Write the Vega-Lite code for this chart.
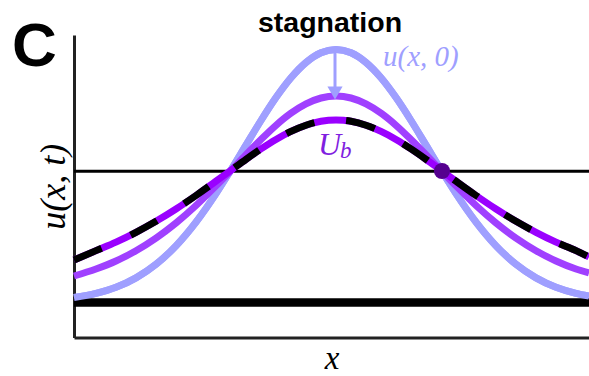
{
  "$schema": "https://vega.github.io/schema/vega-lite/v6.json",
  "autosize": {"type": "none"},
  "padding": {"left": 74, "top": 35, "right": 0, "bottom": 38.5},
  "width": 515,
  "height": 302.5,
  "background": "#ffffff",
  "config": {
    "view": {"stroke": null},
    "axis": {
      "grid": false,
      "ticks": false,
      "labels": false,
      "domainColor": "#222222",
      "domainWidth": 3,
      "titleFont": "Liberation Serif",
      "titleFontStyle": "italic",
      "titleFontWeight": "normal",
      "titleColor": "#000000"
    },
    "axisX": {"titleFontSize": 33, "titlePadding": 5},
    "axisY": {"titleFontSize": 36, "titlePadding": 2}
  },
  "datasets": {
    "profiles": [
      {"s": "u0", "x": 0, "y": 40.0}, {"s": "u0", "x": 22, "y": 44.1}, {"s": "u0", "x": 42, "y": 50.2},
      {"s": "u0", "x": 62, "y": 59.6}, {"s": "u0", "x": 82, "y": 73.2}, {"s": "u0", "x": 102, "y": 91.7},
      {"s": "u0", "x": 122, "y": 115.4}, {"s": "u0", "x": 142, "y": 143.9}, {"s": "u0", "x": 156, "y": 166.0},
      {"s": "u0", "x": 172, "y": 192.4}, {"s": "u0", "x": 187, "y": 217.0}, {"s": "u0", "x": 202, "y": 239.9},
      {"s": "u0", "x": 217, "y": 259.7}, {"s": "u0", "x": 232, "y": 275.0}, {"s": "u0", "x": 247, "y": 284.7},
      {"s": "u0", "x": 262, "y": 288.0}, {"s": "u0", "x": 277, "y": 284.7}, {"s": "u0", "x": 292, "y": 275.0},
      {"s": "u0", "x": 307, "y": 259.7}, {"s": "u0", "x": 322, "y": 239.9}, {"s": "u0", "x": 337, "y": 217.0},
      {"s": "u0", "x": 352, "y": 192.4}, {"s": "u0", "x": 368, "y": 166.0}, {"s": "u0", "x": 382, "y": 143.9},
      {"s": "u0", "x": 402, "y": 115.4}, {"s": "u0", "x": 422, "y": 91.7}, {"s": "u0", "x": 442, "y": 73.2},
      {"s": "u0", "x": 462, "y": 59.6}, {"s": "u0", "x": 482, "y": 50.2}, {"s": "u0", "x": 502, "y": 44.1},
      {"s": "u0", "x": 515, "y": 41.4},

      {"s": "mid", "x": 0, "y": 61.5}, {"s": "mid", "x": 22, "y": 68.5}, {"s": "mid", "x": 42, "y": 76.5},
      {"s": "mid", "x": 62, "y": 86.8}, {"s": "mid", "x": 82, "y": 99.4}, {"s": "mid", "x": 102, "y": 114.5},
      {"s": "mid", "x": 122, "y": 132.0}, {"s": "mid", "x": 142, "y": 151.6}, {"s": "mid", "x": 156, "y": 166.0},
      {"s": "mid", "x": 172, "y": 182.8}, {"s": "mid", "x": 187, "y": 198.0}, {"s": "mid", "x": 202, "y": 212.2},
      {"s": "mid", "x": 217, "y": 224.3}, {"s": "mid", "x": 232, "y": 233.6}, {"s": "mid", "x": 247, "y": 239.5},
      {"s": "mid", "x": 262, "y": 241.5}, {"s": "mid", "x": 277, "y": 239.5}, {"s": "mid", "x": 292, "y": 233.6},
      {"s": "mid", "x": 307, "y": 224.3}, {"s": "mid", "x": 322, "y": 212.2}, {"s": "mid", "x": 337, "y": 198.0},
      {"s": "mid", "x": 352, "y": 182.8}, {"s": "mid", "x": 368, "y": 166.0}, {"s": "mid", "x": 382, "y": 151.6},
      {"s": "mid", "x": 402, "y": 132.0}, {"s": "mid", "x": 422, "y": 114.5}, {"s": "mid", "x": 442, "y": 99.4},
      {"s": "mid", "x": 462, "y": 86.8}, {"s": "mid", "x": 482, "y": 76.5}, {"s": "mid", "x": 502, "y": 68.5},
      {"s": "mid", "x": 515, "y": 64.5},

      {"s": "ub", "x": 0, "y": 77.5}, {"s": "ub", "x": 22, "y": 86.9}, {"s": "ub", "x": 42, "y": 95.4},
      {"s": "ub", "x": 62, "y": 105.2}, {"s": "ub", "x": 82, "y": 116.2}, {"s": "ub", "x": 102, "y": 128.5},
      {"s": "ub", "x": 122, "y": 142.0}, {"s": "ub", "x": 142, "y": 156.3}, {"s": "ub", "x": 156, "y": 166.5},
      {"s": "ub", "x": 172, "y": 178.2}, {"s": "ub", "x": 187, "y": 188.6}, {"s": "ub", "x": 202, "y": 198.1},
      {"s": "ub", "x": 217, "y": 206.1}, {"s": "ub", "x": 232, "y": 212.3}, {"s": "ub", "x": 247, "y": 216.2},
      {"s": "ub", "x": 262, "y": 217.5}, {"s": "ub", "x": 277, "y": 216.2}, {"s": "ub", "x": 292, "y": 212.3},
      {"s": "ub", "x": 307, "y": 206.1}, {"s": "ub", "x": 322, "y": 198.1}, {"s": "ub", "x": 337, "y": 188.6},
      {"s": "ub", "x": 352, "y": 178.2}, {"s": "ub", "x": 368, "y": 166.5}, {"s": "ub", "x": 382, "y": 156.3},
      {"s": "ub", "x": 402, "y": 142.0}, {"s": "ub", "x": 422, "y": 128.5}, {"s": "ub", "x": 442, "y": 116.2},
      {"s": "ub", "x": 462, "y": 105.2}, {"s": "ub", "x": 482, "y": 95.4}, {"s": "ub", "x": 502, "y": 86.9},
      {"s": "ub", "x": 515, "y": 80.5}
    ]
  },
  "layer": [
    {
      "data": {"name": "profiles"},
      "transform": [{"filter": "datum.s === 'u0'"}],
      "mark": {"type": "line", "interpolate": "monotone", "strokeWidth": 7, "color": "#9f9fff", "strokeCap": "butt"},
      "encoding": {
        "x": {"field": "x", "type": "quantitative", "scale": {"domain": [0, 515], "nice": false, "zero": false}, "axis": {"title": "x"}},
        "y": {"field": "y", "type": "quantitative", "scale": {"domain": [0, 302.5], "nice": false, "zero": false}, "axis": {"title": "u(x, t)"}}
      }
    },
    {
      "data": {"values": [{"level": 35}]},
      "mark": {"type": "rule", "strokeWidth": 8.5, "color": "#000000"},
      "encoding": {"y": {"field": "level", "type": "quantitative"}}
    },
    {
      "data": {"values": [{"level": 166.2}]},
      "mark": {"type": "rule", "strokeWidth": 3, "color": "#000000"},
      "encoding": {"y": {"field": "level", "type": "quantitative"}}
    },
    {
      "data": {"name": "profiles"},
      "transform": [{"filter": "datum.s === 'u0'"}],
      "mark": {"type": "line", "interpolate": "monotone", "strokeWidth": 7, "color": "#9f9fff", "strokeCap": "butt"},
      "encoding": {
        "x": {"field": "x", "type": "quantitative"},
        "y": {"field": "y", "type": "quantitative"}
      }
    },
    {
      "data": {"name": "profiles"},
      "transform": [{"filter": "datum.s === 'mid'"}],
      "mark": {"type": "line", "interpolate": "monotone", "strokeWidth": 7, "color": "#a040ff", "strokeCap": "butt"},
      "encoding": {
        "x": {"field": "x", "type": "quantitative"},
        "y": {"field": "y", "type": "quantitative"}
      }
    },
    {
      "data": {"name": "profiles"},
      "transform": [{"filter": "datum.s === 'ub'"}],
      "mark": {"type": "line", "interpolate": "monotone", "strokeWidth": 7, "color": "#9a00ff", "strokeCap": "butt"},
      "encoding": {
        "x": {"field": "x", "type": "quantitative"},
        "y": {"field": "y", "type": "quantitative"}
      }
    },
    {
      "data": {"name": "profiles"},
      "transform": [{"filter": "datum.s === 'ub'"}],
      "mark": {"type": "line", "interpolate": "monotone", "strokeWidth": 7, "color": "#000000", "strokeDash": [30, 32], "strokeCap": "butt"},
      "encoding": {
        "x": {"field": "x", "type": "quantitative"},
        "y": {"field": "y", "type": "quantitative"}
      }
    },
    {
      "data": {"values": [{"x": 261, "top": 285.5, "bottom": 250}]},
      "mark": {"type": "rule", "strokeWidth": 3, "color": "#9f9fff"},
      "encoding": {
        "x": {"field": "x", "type": "quantitative"},
        "y": {"field": "top", "type": "quantitative"},
        "y2": {"field": "bottom"}
      }
    },
    {
      "data": {"values": [{"x": 261, "y": 244.5}]},
      "mark": {"type": "point", "shape": "triangle-down", "filled": true, "size": 230, "color": "#9f9fff", "opacity": 1},
      "encoding": {
        "x": {"field": "x", "type": "quantitative"},
        "y": {"field": "y", "type": "quantitative"}
      }
    },
    {
      "data": {"values": [{"x": 368, "y": 166.5}]},
      "mark": {"type": "point", "shape": "circle", "filled": true, "size": 260, "color": "#55008f", "opacity": 1},
      "encoding": {
        "x": {"field": "x", "type": "quantitative"},
        "y": {"field": "y", "type": "quantitative"}
      }
    },
    {
      "data": {"values": [{"x": -62, "y": 271.5, "label": "C"}]},
      "mark": {"type": "text", "font": "Liberation Sans", "fontWeight": "bold", "fontSize": 62, "align": "left", "baseline": "alphabetic", "color": "#000000"},
      "encoding": {
        "x": {"field": "x", "type": "quantitative"},
        "y": {"field": "y", "type": "quantitative"},
        "text": {"field": "label"}
      }
    },
    {
      "data": {"values": [{"x": 256, "y": 305.5, "label": "stagnation"}]},
      "mark": {"type": "text", "font": "Liberation Sans", "fontWeight": "bold", "fontSize": 28.5, "align": "center", "baseline": "alphabetic", "color": "#000000"},
      "encoding": {
        "x": {"field": "x", "type": "quantitative"},
        "y": {"field": "y", "type": "quantitative"},
        "text": {"field": "label"}
      }
    },
    {
      "data": {"values": [{"x": 309, "y": 271.5, "label": "u(x, 0)"}]},
      "mark": {"type": "text", "font": "Liberation Serif", "fontStyle": "italic", "fontSize": 29, "align": "left", "baseline": "alphabetic", "color": "#9f9fff"},
      "encoding": {
        "x": {"field": "x", "type": "quantitative"},
        "y": {"field": "y", "type": "quantitative"},
        "text": {"field": "label"}
      }
    },
    {
      "data": {"values": [{"x": 244, "y": 182.5, "label": "U"}]},
      "mark": {"type": "text", "font": "Liberation Serif", "fontStyle": "italic", "fontSize": 32, "align": "left", "baseline": "alphabetic", "color": "#8020e0"},
      "encoding": {
        "x": {"field": "x", "type": "quantitative"},
        "y": {"field": "y", "type": "quantitative"},
        "text": {"field": "label"}
      }
    },
    {
      "data": {"values": [{"x": 266, "y": 179.5, "label": "b"}]},
      "mark": {"type": "text", "font": "Liberation Serif", "fontStyle": "italic", "fontSize": 23, "align": "left", "baseline": "alphabetic", "color": "#8020e0"},
      "encoding": {
        "x": {"field": "x", "type": "quantitative"},
        "y": {"field": "y", "type": "quantitative"},
        "text": {"field": "label"}
      }
    }
  ]
}
